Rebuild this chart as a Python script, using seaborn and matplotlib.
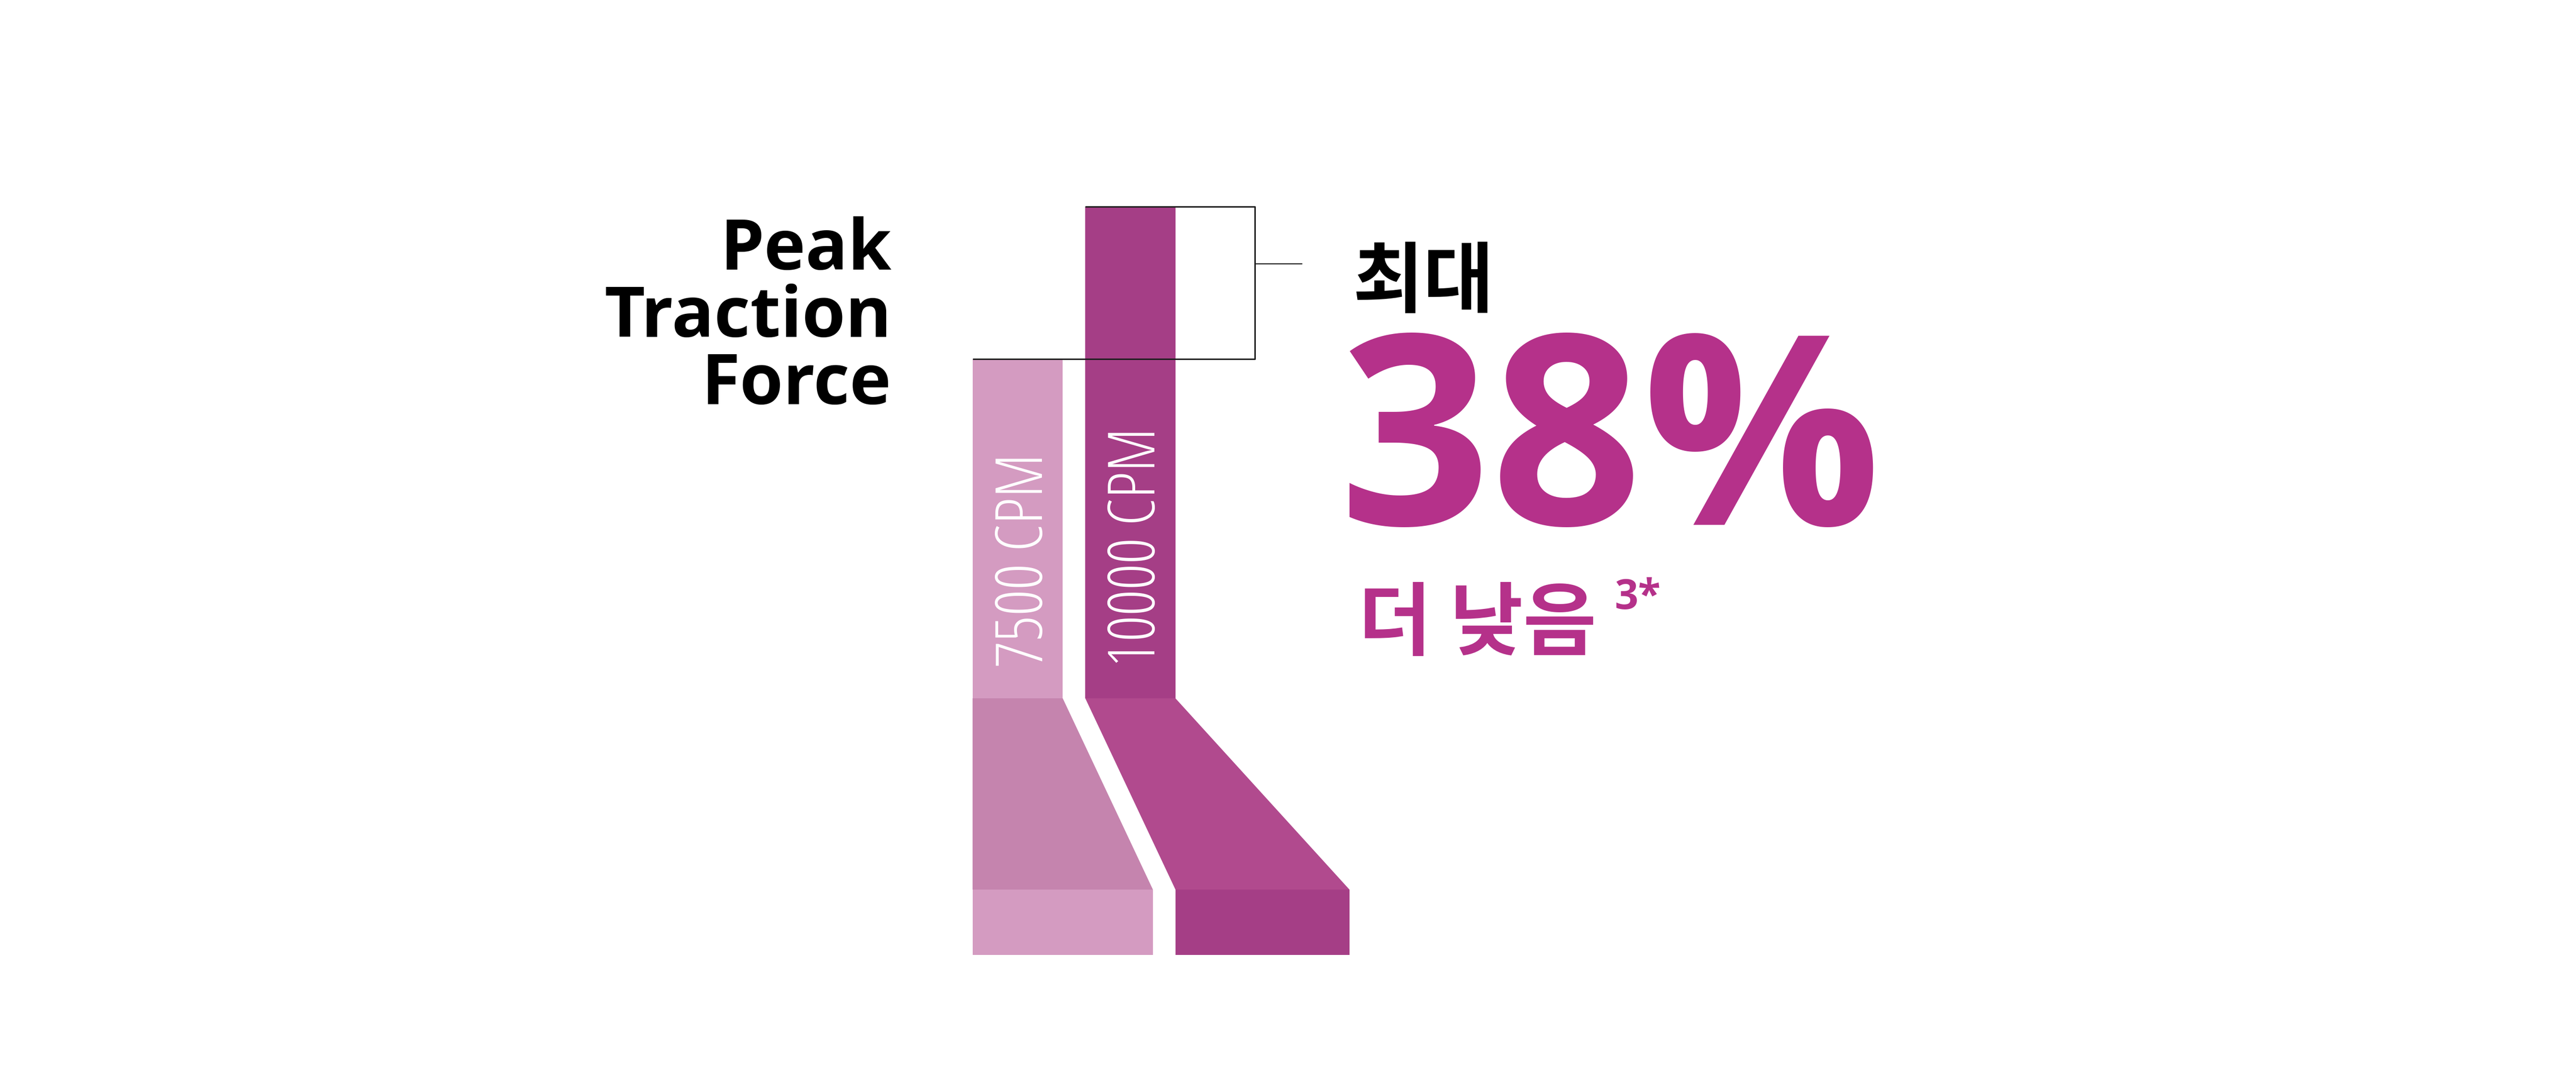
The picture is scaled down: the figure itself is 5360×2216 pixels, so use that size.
import matplotlib
matplotlib.use("Agg")
import matplotlib.pyplot as plt
from matplotlib import font_manager as fm
from matplotlib.font_manager import FontProperties
from matplotlib.patches import Polygon
import seaborn as sns
import pandas as pd

# ---------------- data ----------------
categories = ["7500 CPM", "10000 CPM"]
peak_force = [69, 100]            # relative peak traction force (bar heights)
title_lines = ["Peak", "Traction", "Force"]
headline_prefix = "최대"
headline_value = "38%"
headline_suffix = "더 낮음"
footnote_mark = "3*"

# ---------------- layout / style ----------------
W, H, DPI = 5360, 2216, 100
LIGHT, DARK = "#D49BC1", "#A53E86"
LIGHT_TRAP, DARK_TRAP = "#C584AE", "#B14A8E"
MAGENTA, INK = "#B5318A", "#1E1E1E"

X0_PX, UX_PX = 2117.5, 234.5      # pixel x of first category, px per category
Y0_PX, UY_PX = 1453.0, 10.23      # pixel y of zero, px per force unit
TRAP_DEPTH = (1851 - Y0_PX) / UY_PX
BASE_DEPTH = (1987 - Y0_PX) / UY_PX
TRAP_SHIFT = [(0.0, 1.0), (1.0, 1.93)]   # bottom-left / bottom-right offsets (bar widths)
BRACKET_X = (2611 - X0_PX) / UX_PX
TICK_END = (2709 - X0_PX) / UX_PX
TICK_Y = (Y0_PX - 549) / UY_PX
LABEL_START = (Y0_PX - 1388) / UY_PX
LABEL_LEN_PX = 445


def px(v):
    return v * 72.0 / DPI


def fx(x):
    return x / W


def fy(y):
    return 1 - y / H


def weight_num(w):
    if isinstance(w, (int, float)):
        return w
    return fm.weight_dict.get(str(w).lower(), 400)


def pick_thin_font():
    """Prefer a light condensed face, else any light face, else Roboto."""
    cond_words = ("condensed", "narrow", "cond")
    best = None
    for f in fm.fontManager.ttflist:
        w = weight_num(f.weight)
        if w > 350:
            continue
        name = f.name.lower()
        fname = f.fname.lower()
        is_cond = any(k in name or k in fname for k in cond_words) or \
            str(f.stretch) in ("condensed", "semi-condensed", "extra-condensed",
                               "ultra-condensed")
        if "italic" in fname or str(f.style) != "normal":
            continue
        score = (0 if is_cond else 1,
                 0 if ("open" in name or "roboto" in name) else 1,
                 abs(w - 300))
        if best is None or score < best[0]:
            best = (score, f.fname)
    if best is not None:
        return FontProperties(fname=best[1])
    return FontProperties(family=["Roboto", "DejaVu Sans"], weight="light")


sns.set_theme(style="white")
plt.rcParams["font.family"] = ["Open Sans", "Noto Sans CJK KR", "DejaVu Sans"]

thin_fp = pick_thin_font()

fig = plt.figure(figsize=(W / DPI, H / DPI), dpi=DPI)
fig.patch.set_facecolor("white")
ax = fig.add_axes([0, 0, 1, 1])

df = pd.DataFrame({"cpm": categories, "force": peak_force})
sns.barplot(data=df, x="cpm", y="force", hue="cpm", palette=[LIGHT, DARK],
            width=0.8, saturation=1, legend=False, errorbar=None,
            edgecolor="none", linewidth=0, ax=ax)

ax.set_xlim(-X0_PX / UX_PX, (W - X0_PX) / UX_PX)
ax.set_ylim(-(H - Y0_PX) / UY_PX, Y0_PX / UY_PX)
ax.axis("off")

bars = list(ax.patches)[:2]
trap_cols = [LIGHT_TRAP, DARK_TRAP]
base_cols = [LIGHT, DARK]
labels = []
for i, p in enumerate(bars):
    x0, w = p.get_x(), p.get_width()
    x1 = x0 + w
    sl, sr = TRAP_SHIFT[i]
    bl, br = x0 + sl * w, x1 + sr * w
    ax.add_patch(Polygon([(x0, 0), (x1, 0), (br, -TRAP_DEPTH), (bl, -TRAP_DEPTH)],
                         closed=True, fc=trap_cols[i], ec="none", lw=0))
    ax.add_patch(Polygon([(bl, -TRAP_DEPTH), (br, -TRAP_DEPTH),
                          (br, -BASE_DEPTH), (bl, -BASE_DEPTH)],
                         closed=True, fc=base_cols[i], ec="none", lw=0))
    fp = thin_fp.copy()
    fp.set_size(px(100))
    t = ax.text(x0 + w / 2, LABEL_START, categories[i], rotation=90,
                rotation_mode="anchor", ha="left", va="center_baseline",
                color="white", fontproperties=fp)
    labels.append(t)

# bracket
light_top, dark_top = peak_force
ax.plot([bars[1].get_x(), BRACKET_X], [dark_top, dark_top], color=INK, lw=2.2,
        solid_capstyle="butt")
ax.plot([bars[0].get_x(), BRACKET_X], [light_top, light_top], color=INK, lw=2.2,
        solid_capstyle="butt")
ax.plot([BRACKET_X, BRACKET_X], [light_top, dark_top], color=INK, lw=2.2)
ax.plot([BRACKET_X, TICK_END], [TICK_Y, TICK_Y], color=INK, lw=1.6)

# title text
for line, base in zip(title_lines, [561, 701, 841]):
    fig.text(fx(1855), fy(base), line, ha="right", va="baseline",
             fontsize=px(146), fontweight="bold", family=["Open Sans"], color="black")

fig.text(fx(2815), fy(636), headline_prefix, ha="left", va="baseline",
         fontsize=px(160), fontweight="bold", family=["Noto Sans CJK KR"], color="black")
fig.text(fx(2787), fy(1092), headline_value, ha="left", va="baseline",
         fontsize=px(552), fontweight="bold", family=["Open Sans"], color=MAGENTA)
fig.text(fx(2826), fy(1350), headline_suffix, ha="left", va="baseline",
         fontsize=px(166), fontweight="bold", family=["Noto Sans CJK KR"], color=MAGENTA)
fig.text(fx(3360), fy(1267), footnote_mark, ha="left", va="baseline",
         fontsize=px(86), fontweight="bold", family=["Open Sans"], color=MAGENTA)

# fit bar labels to their measured length
fig.canvas.draw()
r = fig.canvas.get_renderer()
ext = labels[0].get_window_extent(r)
scale = LABEL_LEN_PX / ext.height
for t in labels:
    t.set_fontsize(t.get_fontsize() * scale)

fig.savefig("out.png", dpi=DPI, facecolor="white")
